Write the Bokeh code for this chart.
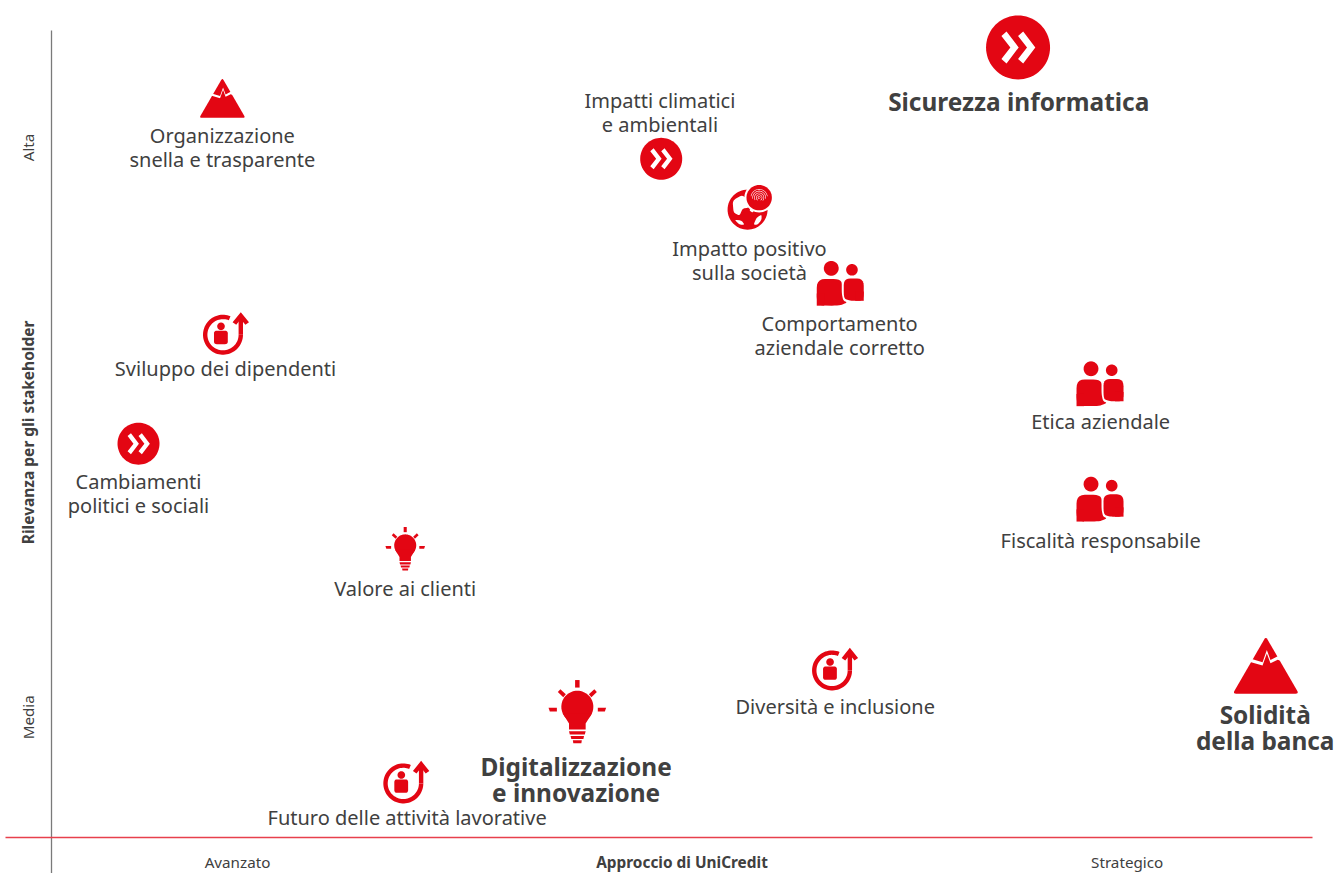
import numpy as np
from bokeh.plotting import figure
from bokeh.models import ColumnDataSource, Range1d
from bokeh.core.properties import value
from bokeh.embed import file_html
from bokeh.resources import INLINE

# ---- data: approach score (0-100), relevance score (0-100)
topics = ["Sicurezza informatica", "Impatti climatici", "Organizzazione", "Impatto positivo",
          "Comportamento", "Sviluppo dei dipendenti", "Etica aziendale", "Cambiamenti",
          "Fiscalità responsabile", "Valore ai clienti", "Diversità e inclusione", "Solidità",
          "Digitalizzazione", "Futuro delle attività lavorative"]
second_lines = ["", "e ambientali", "snella e trasparente", "sulla società",
                "aziendale corretto", "", "", "politici e sociali",
                "", "", "", "della banca", "e innovazione", ""]
approach = [76.65, 48.35, 13.55, 55.2, 62.55, 13.6, 83.15, 6.9, 83.15, 28.05, 61.9, 96.3, 41.7, 27.9]
relevance = [97.9, 84.1, 91.6, 77.8, 68.65, 62.3, 56.2, 48.8, 41.9, 36.2, 20.7, 21.3, 16.2, 6.7]
icon_kind = ["badge", "badge", "mountain", "globe", "people", "growth", "people", "badge",
             "people", "bulb", "growth", "mountain", "bulb", "growth"]
is_major = [True, False, False, False, False, False, False, False,
            False, False, False, True, True, False]
label_x = [76.7, 48.25, 13.55, 55.35, 62.5, 13.8, 83.2, 6.9, 83.2, 28.05, 62.15, 96.25, 41.6, 28.2]
label_y = [91.25, 91.35, 87.0, 73.0, 63.7, 58.1, 51.5, 44.15, 36.85, 30.85, 16.2, 15.2, 8.85, 2.5]

x_ticks = [14.75, 85.3]
x_tick_labels = ["Avanzato", "Strategico"]
y_ticks = [85.5, 14.9]
y_tick_labels = ["Alta", "Media"]
x_title = "Approccio di UniCredit"
y_title = "Rilevanza per gli stakeholder"

# ---- layout
W, H = 1336, 873
X0, X100 = 51.0, 1312.0      # pixel of score 0 / 100
Y0, Y100 = 837.0, 30.0
SX = (X100 - X0) / 100
SY = (Y0 - Y100) / 100
RED = "#e30613"
TEXT = "#404040"
FONT = "Noto Sans"

p = figure(width=W, height=H, output_backend="svg", toolbar_location=None,
           x_range=Range1d(-X0 / SX, (W - X0) / SX),
           y_range=Range1d((Y0 - H) / SY, Y0 / SY),
           min_border=0, outline_line_color=None, background_fill_color="white")
p.xaxis.visible = False
p.yaxis.visible = False
p.grid.visible = False
p.styles = {"position": "absolute", "left": "0px", "top": "0px"}

layers = {0: [], 1: [], 2: [], 3: []}


def add(layer, cx, cy, pts):
    pts = np.asarray(pts, dtype=float)
    layers[layer].append((cx + pts[:, 0] / SX, cy - pts[:, 1] / SY))


def ellipse(x, y, r, n=48):
    t = np.linspace(0, 2 * np.pi, n, endpoint=False)
    return np.c_[x + r * np.cos(t), y + r * np.sin(t)]


def ring(x, y, ro, ri, a0, a1, n=48):
    t = np.radians(np.linspace(a0, a1, n))
    outer = np.c_[x + ro * np.cos(t), y + ro * np.sin(t)]
    inner = np.c_[x + ri * np.cos(t[::-1]), y + ri * np.sin(t[::-1])]
    return np.vstack([outer, inner])


def round_poly(pts, k=0.35, n=6):
    pts = np.asarray(pts, float)
    out = []
    m = len(pts)
    for i in range(m):
        a, b, c = pts[i - 1], pts[i], pts[(i + 1) % m]
        s = b + (a - b) * k
        e = b + (c - b) * k
        for t in np.linspace(0, 1, n):
            out.append((1 - t) ** 2 * s + 2 * t * (1 - t) * b + t ** 2 * e)
    return np.array(out)


def badge(cx, cy, major):
    r = 32.0 if major else 21.0
    add(0, cx, cy, ellipse(0, 0, r, 72))
    for dx in (0.0, 0.52):
        ch = np.array([(-0.36, -0.5), (0.02, 0.0), (-0.36, 0.5), (-0.52, 0.36), (-0.24, 0.0), (-0.52, -0.36)])
        ch[:, 0] += dx
        add(1, cx, cy, ch * r)


def mountain(cx, cy, major):
    s = 33.0 if major else 23.0
    add(0, cx, cy, round_poly(np.array([(0, -0.88), (1, 0.85), (-1, 0.85)]) * s, k=0.05))
    zig = np.array([(-0.5, -0.22), (-0.1, -0.1), (0.03, -0.47), (0.14, -0.17), (0.36, -0.28), (0.58, -0.2)])
    band = np.vstack([zig, (zig + [0, 0.1])[::-1]])
    add(1, cx, cy, band * s)


def growth(cx, cy, major):
    r = 20.0
    add(0, cx, cy, ring(0, 0, r, r * 0.78, -68, -360, 64))
    add(0, cx, cy, np.array([(0.78, 0), (1.0, 0), (1.0, -0.95), (0.78, -0.95)]) * r)
    add(0, cx, cy, np.array([(0.89, -1.13), (1.3, -0.62), (1.12, -0.5), (0.89, -0.78), (0.66, -0.5), (0.48, -0.62)]) * r)
    add(0, cx, cy, ellipse(-0.1 * r, -0.42 * r, 0.19 * r))
    add(0, cx, cy, round_poly(np.array([(-0.45, -0.2), (0.24, -0.2), (0.24, 0.47), (-0.45, 0.47)]) * r, k=0.2))


def bulb(cx, cy, major):
    r = 16.0 if major else 11.0
    add(0, cx, cy, ellipse(0, 0, r, 60))
    add(0, cx, cy, np.array([(-0.92, 0.4), (0.92, 0.4), (0.52, 1.05), (0.52, 1.42), (-0.52, 1.42), (-0.52, 1.05)]) * r)
    for y, w, h in [(1.53, 0.52, 0.2), (1.83, 0.42, 0.18), (2.1, 0.28, 0.18)]:
        add(0, cx, cy, np.array([(-w, y), (w, y), (w * 0.9, y + h), (-w * 0.9, y + h)]) * r)
    rays = [[(-0.14, -1.67), (0.14, -1.67), (0.14, -1.2), (-0.14, -1.2)],
            [(-1.22, -0.92), (-1.06, -1.1), (-0.72, -0.78), (-0.88, -0.6)],
            [(1.22, -0.92), (1.06, -1.1), (0.72, -0.78), (0.88, -0.6)],
            [(-1.8, 0.06), (-1.28, 0.06), (-1.28, 0.3), (-1.72, 0.3)],
            [(1.8, 0.06), (1.28, 0.06), (1.28, 0.3), (1.72, 0.3)]]
    for ray in rays:
        add(0, cx, cy, np.array(ray) * r)


def people(cx, cy, major):
    add(0, cx, cy, ellipse(-9, -15.2, 7.4))
    add(0, cx, cy, ellipse(11.7, -13.7, 5.8))
    add(0, cx, cy, round_poly([(-23.5, 22), (-23.5, -4.5), (1.5, -4.5), (1.5, 10),
                               (3, 17), (7, 19), (-1, 22.2)], k=0.33))
    add(0, cx, cy, round_poly([(3.5, -5), (23.5, -5), (23.5, 17.3), (10, 17.3), (3.5, 15)], k=0.33))
    add(0, cx, cy, np.array([(-23.5, 10), (-16, 10), (-16, 22.2), (-23.5, 22.2)]))
    add(0, cx, cy, np.array([(15, 8), (23.5, 8), (23.5, 17.3), (15, 17.3)]))


def globe(cx, cy, major):
    add(0, cx, cy, ellipse(0, 0, 20, 64))
    conts = [[(-15, -9), (-5, -15), (3, -6), (1, -2), (-5, -1), (-8, 6), (-14, 3)],
             [(-13, 10), (-6, 11), (-3, 15), (-8, 15)],
             [(6, 15), (9, 8), (14, 5), (14, 10), (10, 15)],
             [(3, -2), (7, 0), (5, 3), (2, 1)]]
    for c in conts:
        add(1, cx, cy, round_poly(c, k=0.3))
    add(1, cx, cy, ellipse(11.6, -12, 14.8, 48))
    add(2, cx, cy, ellipse(11.6, -12, 12.7, 48))
    for rr, a0, a1 in [(8.6, 190, 350), (6.8, 170, 370), (5.0, 150, 400), (3.2, 120, 420), (1.4, 60, 360)]:
        add(3, cx, cy, ring(11.6, -12, rr, rr - 0.6, a0, a1, 24))


draw = {"badge": badge, "mountain": mountain, "growth": growth,
        "bulb": bulb, "people": people, "globe": globe}
for kind, x, y, major in zip(icon_kind, approach, relevance, is_major):
    draw[kind](x, y, major)

# ---- frame lines, from the score axes
p.segment(x0=[0], y0=[(Y0 - H) / SY], x1=[0], y1=[100], line_color="#7a7a7a", line_width=1.3)
p.segment(x0=[-46 / SX], y0=[0], x1=[100], y1=[0], line_color="#e8404c", line_width=1.5)

for layer, color in [(0, RED), (1, "white"), (2, RED), (3, "white")]:
    polys = layers[layer]
    if polys:
        p.patches(xs=[a.tolist() for a, _ in polys], ys=[b.tolist() for _, b in polys],
                  fill_color=color, line_color=None)


# ---- labels
def text(xs, ys, labels, size, bold=False, angle=0.0):
    src = ColumnDataSource(dict(x=xs, y=ys, t=labels))
    p.text("x", "y", text="t", source=src, text_font=value(FONT), text_font_size=f"{size}px",
           text_font_style="bold" if bold else "normal", text_color=TEXT,
           text_align="center", text_baseline="middle", angle=angle)


def gather(major, dy_px):
    xs, ys, ts = [], [], []
    for t, s, x, y, m in zip(topics, second_lines, label_x, label_y, is_major):
        if m != major:
            continue
        xs.append(x); ys.append(y); ts.append(t)
        if s:
            xs.append(x); ys.append(y - dy_px / SY); ts.append(s)
    return xs, ys, ts


text(*gather(False, 24), 20)
text(*gather(True, 26), 24.4, bold=True)
text(x_ticks, [-3.0, -3.0], x_tick_labels, 15.2)
text([50], [-3.1], [x_title], 15.4, bold=True)
text([-1.9, -1.9], y_ticks, y_tick_labels, 15.2, angle=np.pi / 2)
text([-1.9], [50.2], [y_title], 15.5, bold=True, angle=np.pi / 2)

open("out.html", "w").write(file_html(p, INLINE))
